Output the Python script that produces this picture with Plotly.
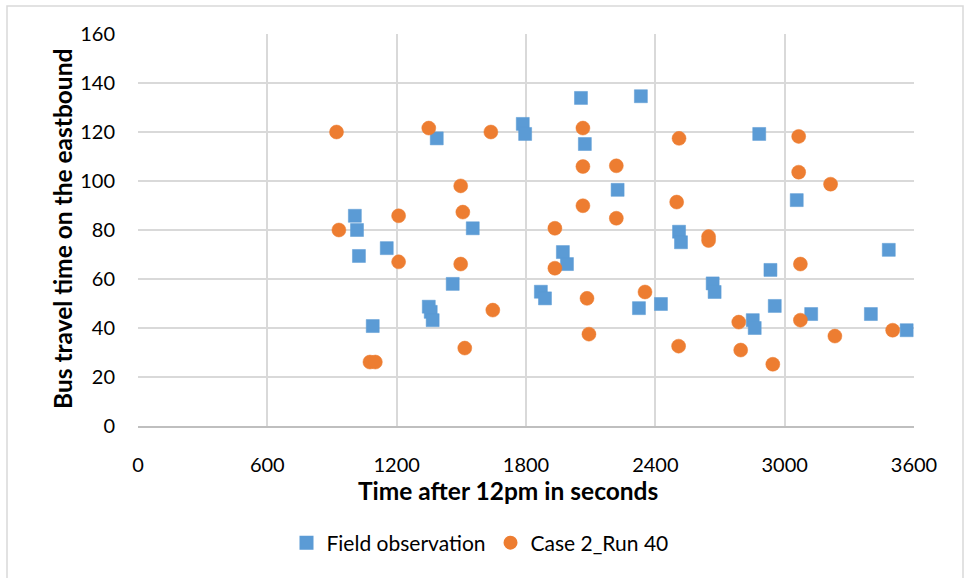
import plotly.graph_objects as go

# Field observation: departure time (s after 12pm) and travel time (s)
field_time = [1006, 1016, 1025, 1089, 1154, 1349, 1358, 1367, 1386, 1460,
              1553, 1785, 1796, 1869, 1888, 1971, 1990, 2055, 2073, 2225,
              2324, 2333, 2426, 2510, 2519, 2666, 2675, 2852, 2861, 2882,
              2934, 2954, 3056, 3123, 3400, 3483, 3566]
field_travel = [85.8, 80.0, 69.4, 40.8, 72.6, 48.7, 46.6, 43.2, 117.4, 58.0,
                80.7, 123.3, 119.2, 54.8, 52.1, 71.0, 66.1, 133.9, 115.1, 96.4,
                48.1, 134.6, 49.8, 79.3, 75.0, 58.2, 54.7, 43.2, 40.0, 119.2,
                63.7, 49.0, 92.2, 45.7, 45.7, 71.9, 39.1]

# Simulation: Case 2, Run 40
sim_time = [921, 932, 1076, 1101, 1209, 1209, 1349, 1497, 1507, 1497,
            1516, 1637, 1646, 1934, 1934, 2064, 2064, 2064, 2083, 2092,
            2219, 2219, 2352, 2499, 2510, 2508, 2647, 2647, 2787, 2796,
            2945, 3065, 3065, 3073, 3073, 3213, 3233, 3501]
sim_travel = [120.0, 80.0, 26.1, 26.1, 85.8, 67.0, 121.6, 98.0, 87.3, 66.1,
              31.8, 120.0, 47.3, 80.7, 64.4, 121.6, 105.9, 89.9, 52.1, 37.5,
              106.2, 84.8, 54.7, 91.4, 117.4, 32.6, 77.3, 75.7, 42.4, 31.0,
              25.2, 118.2, 103.6, 66.1, 43.2, 98.7, 36.7, 39.1]

x_ticks = [0, 600, 1200, 1800, 2400, 3000, 3600]
y_ticks = [0, 20, 40, 60, 80, 100, 120, 140, 160]

series_names = ["Field observation", "Case 2_Run 40"]
x_title = "Time after 12pm in seconds"
y_title = "Bus travel time on the eastbound"

BLUE = "#5B9BD5"
ORANGE = "#ED7D31"
GRID = "#D9D9D9"
FONT = "Lato, 'Open Sans', sans-serif"

fig = go.Figure()
fig.add_trace(go.Scatter(
    x=field_time, y=field_travel, mode="markers", name=series_names[0],
    marker=dict(symbol="square", size=13, color=BLUE,
                line=dict(color=BLUE, width=0.5)),
))
fig.add_trace(go.Scatter(
    x=sim_time, y=sim_travel, mode="markers", name=series_names[1],
    marker=dict(symbol="circle", size=14, color=ORANGE,
                line=dict(color=ORANGE, width=0.5)),
))

L, R, T, B = 138, 51, 34, 152
W, H = 965, 578
pw, ph = W - L - R, H - T - B

fig.update_layout(
    width=W, height=H,
    margin=dict(l=L, r=R, t=T, b=B, pad=0),
    paper_bgcolor="white", plot_bgcolor="white",
    font=dict(family=FONT, color="#000000", size=20),
    showlegend=True,
    legend=dict(
        orientation="h", x=(480 - L) / pw, xanchor="center",
        y=(H - B - 543) / ph, yanchor="middle",
        font=dict(family=FONT, size=21, color="#000000"),
        itemsizing="constant", traceorder="normal", itemwidth=30,
        bgcolor="rgba(0,0,0,0)",
    ),
    xaxis=dict(
        range=[0, 3600], tickvals=x_ticks, ticktext=[str(v) for v in x_ticks],
        showgrid=True, gridcolor=GRID, gridwidth=1.5, zeroline=False,
        showline=True, linecolor="#BFBFBF", linewidth=1.5,
        ticks="outside", ticklen=20, tickcolor="rgba(0,0,0,0)",
        tickfont=dict(family=FONT, size=20, color="#000000"),
        fixedrange=True,
    ),
    yaxis=dict(
        range=[0, 160], tickvals=y_ticks, ticktext=[str(v) for v in y_ticks],
        showgrid=True, gridcolor=GRID, gridwidth=1.5, zeroline=False,
        showline=False,
        ticks="outside", ticklen=18, tickcolor="rgba(0,0,0,0)",
        tickfont=dict(family=FONT, size=20, color="#000000"),
        fixedrange=True,
    ),
    annotations=[
        dict(text=f"<b>{x_title}</b>", xref="paper", yref="paper",
             x=(508 - L) / pw, y=(H - B - 490) / ph, xanchor="center",
             yanchor="middle", showarrow=False,
             font=dict(family=FONT, size=24.5, color="#000000")),
        dict(text=f"<b>{y_title}</b>", xref="paper", yref="paper",
             x=(62 - L) / pw, y=(H - B - 229) / ph, xanchor="center",
             yanchor="middle", textangle=-90, showarrow=False,
             font=dict(family=FONT, size=24.5, color="#000000")),
    ],
    shapes=[
        dict(type="rect", xref="paper", yref="paper",
             x0=(7 - L) / pw, x1=(963 - L) / pw,
             y0=(H - B - 585) / ph, y1=(H - B - 6) / ph,
             line=dict(color=GRID, width=1.5), fillcolor="rgba(0,0,0,0)",
             layer="below"),
    ],
)

fig.write_html("out.html")
